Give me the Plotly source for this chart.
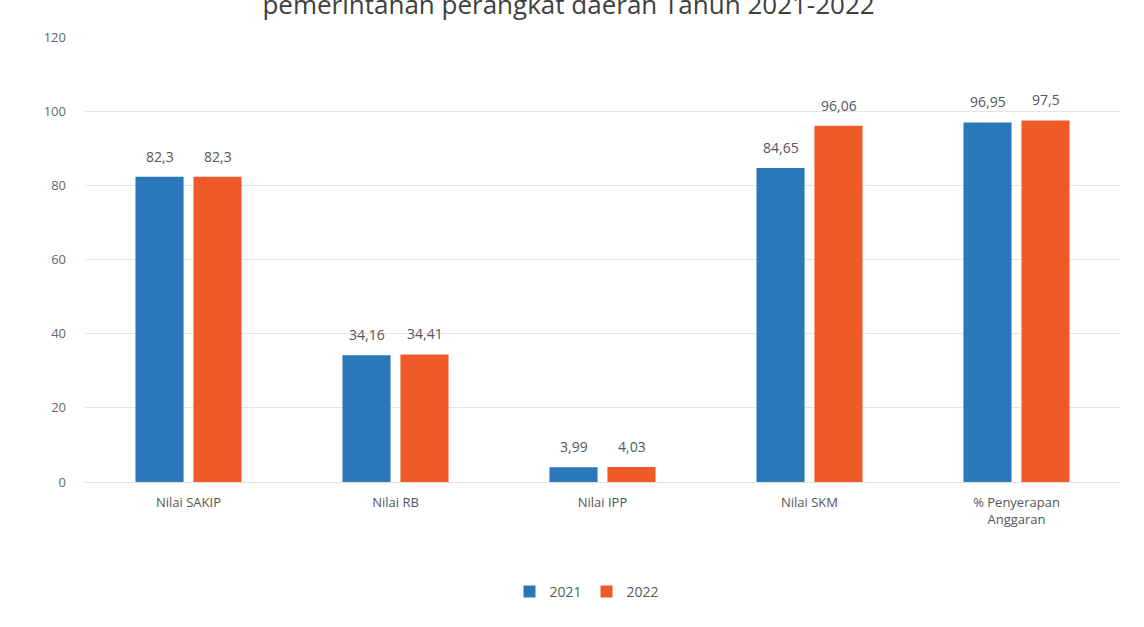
import plotly.graph_objects as go

categories = ["Nilai SAKIP", "Nilai RB", "Nilai IPP", "Nilai SKM", "% Penyerapan<br>Anggaran"]
values_2021 = [82.3, 34.16, 3.99, 84.65, 96.95]
values_2022 = [82.3, 34.41, 4.03, 96.06, 97.5]
series_names = ["2021", "2022"]
y_ticks = [0, 20, 40, 60, 80, 100, 120]
title_text = "pemerintahan perangkat daerah Tahun 2021-2022"

def fmt(v):
    s = ("%.2f" % v).rstrip("0").rstrip(".")
    return s.replace(".", ",")

colors = ["#2A77BA", "#F05A28"]
font_family = "Open Sans, Noto Sans, sans-serif"

fig = go.Figure()
for name, vals, col in zip(series_names, [values_2021, values_2022], colors):
    fig.add_trace(go.Bar(
        x=categories, y=vals, name=name,
        marker=dict(color=col, line=dict(width=0)),
    ))

annotations = []
for shift, vals in zip([-29, 29], [values_2021, values_2022]):
    for c, v in zip(categories, vals):
        annotations.append(dict(x=c, y=v, xref="x", yref="y", text=fmt(v), showarrow=False,
                                xshift=shift, yshift=9, yanchor="bottom",
                                font=dict(size=14, color="#555555", family=font_family)))

fig.update_layout(
    width=1144, height=627,
    margin=dict(l=85, r=24, t=37, b=145),
    paper_bgcolor="white", plot_bgcolor="white",
    barmode="group", bargap=0.44, bargroupgap=0.17,
    font=dict(family=font_family, color="#595959", size=13),
    title=dict(text=title_text, x=0.497, xanchor="center", y=0.992, yanchor="middle",
               font=dict(size=26, color="#404040", family=font_family)),
    showlegend=True,
    legend=dict(orientation="h", x=0.485, xanchor="center", y=-0.247, yanchor="middle",
                font=dict(size=14, color="#595959"), traceorder="normal"),
    annotations=annotations,
    separators=",.",
)
fig.update_yaxes(range=[0, 120], tickvals=y_ticks, showgrid=True, gridcolor="#E6E6E6",
                 zeroline=False, showline=False, ticks="", ticklabelstandoff=18,
                 tickfont=dict(size=13, color="#666666"))
fig.update_xaxes(showline=True, linecolor="#E0E0E0", ticks="", showgrid=False,
                 ticklabelstandoff=8, tickfont=dict(size=13, color="#555555"))

fig.write_html("out.html")
